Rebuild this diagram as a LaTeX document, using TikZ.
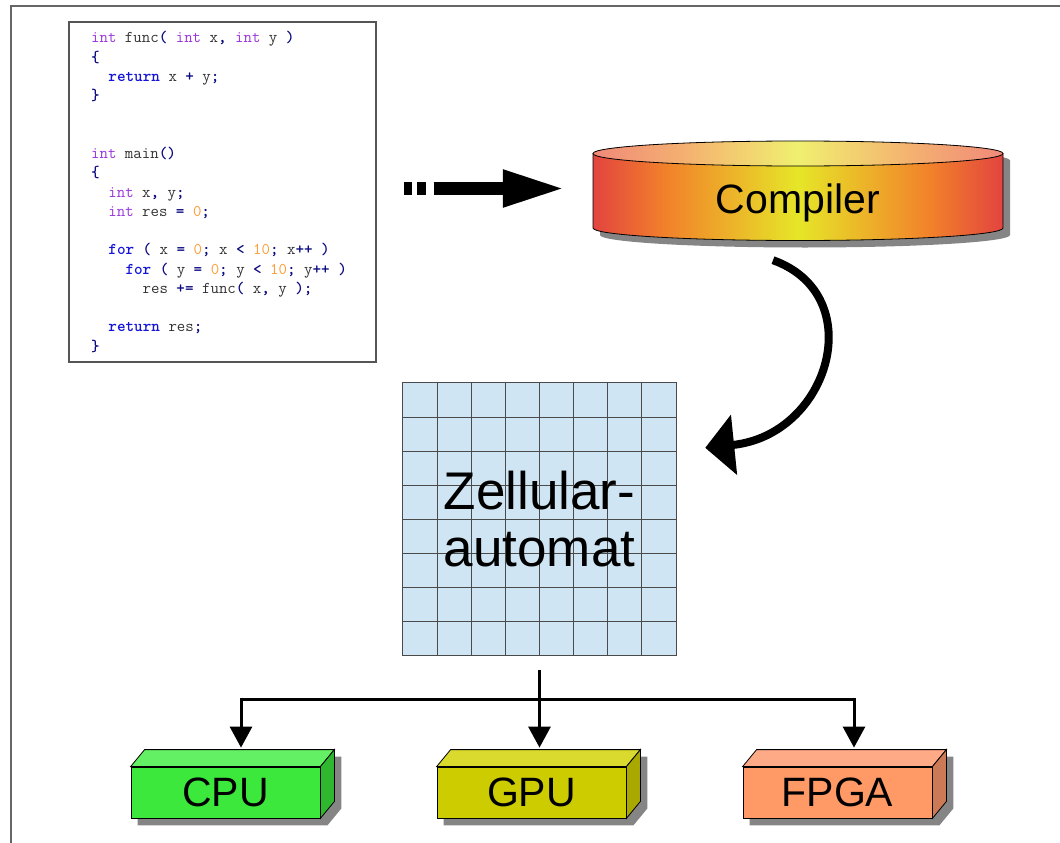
\documentclass[tikz,border=0pt]{standalone}
\usepackage{fontspec}
\newfontfamily\sansfont{Liberation Sans}
\usetikzlibrary{arrows.meta}
\pgfdeclarelayer{bg}
\pgfsetlayers{bg,main}

% palette
\definecolor{framec}{HTML}{666666}
\definecolor{codeborder}{HTML}{555555}
\definecolor{ctype}{HTML}{9A33DD}
\definecolor{ckey}{HTML}{1414D8}
\definecolor{cop}{HTML}{0A0A80}
\definecolor{cnum}{HTML}{FF9A33}
\definecolor{cid}{HTML}{333333}
\definecolor{cylred}{HTML}{E2443F}
\definecolor{cylorange}{HTML}{F2822A}
\definecolor{cylyellow}{HTML}{E6E628}
\definecolor{capred}{HTML}{F08A7A}
\definecolor{caporange}{HTML}{F4B070}
\definecolor{capyellow}{HTML}{F0F070}
\definecolor{gridfill}{HTML}{CFE5F3}
\definecolor{gridline}{HTML}{4A4A4A}
\definecolor{shadowc}{HTML}{858585}
\definecolor{cpufront}{HTML}{3CE83C}
\definecolor{cputop}{HTML}{64F064}
\definecolor{cpuside}{HTML}{2FB82F}
\definecolor{gpufront}{HTML}{CCCC00}
\definecolor{gputop}{HTML}{D9D92E}
\definecolor{gpuside}{HTML}{A8A800}
\definecolor{fpgafront}{HTML}{FF9966}
\definecolor{fpgatop}{HTML}{FFAA86}
\definecolor{fpgaside}{HTML}{CC7A55}

\pgfdeclarehorizontalshading{cylbody}{100bp}{color(0bp)=(cylred); color(25bp)=(cylred);
  color(34bp)=(cylorange); color(50bp)=(cylyellow); color(66bp)=(cylorange);
  color(75bp)=(cylred); color(100bp)=(cylred)}
\pgfdeclarehorizontalshading{cyltop}{100bp}{color(0bp)=(capred); color(25bp)=(capred);
  color(36bp)=(caporange); color(50bp)=(capyellow); color(64bp)=(caporange);
  color(75bp)=(capred); color(100bp)=(capred)}

% code listing helpers
\newcommand\ty[1]{\textcolor{ctype}{#1}}
\newcommand\kw[1]{\textcolor{ckey}{\bfseries #1}}
\newcommand\op[1]{\textcolor{cop}{\bfseries #1}}
\newcommand\nm[1]{\textcolor{cnum}{#1}}

\tikzset{
  codeline/.style={anchor=base west, inner sep=0pt, text=cid,
    font=\ttfamily\fontsize{16.4}{19}\selectfont},
  edge/.style={draw=black, line width=0.8pt},
  blockface/.style={edge, minimum width=189pt, minimum height=51pt, inner sep=0pt,
    font=\sansfont\fontsize{41}{45}\selectfont},
  conn/.style={line width=3pt, -{Triangle[length=21pt,width=22pt]}},
  fatarrow/.style={line width=13.5pt, dash pattern=on 8.5pt off 5pt on 9pt off 7.5pt on 400pt,
    -{Triangle[length=63pt,width=34pt]}},
  bendarrow/.style={line width=8pt, -{Triangle[length=29pt,width=59pt]}},
}

% 3D block: name, centre x, centre y, colour prefix, label
\newcommand\blockbox[5]{%
  \node[blockface, fill=#4front] (#1) at (#2,#3) {#5};
  \draw[edge, fill=#4top] (#1.north west) -- ++(14,-17)
    -- ([xshift=14pt,yshift=17pt]#1.north east) -- (#1.north east) -- cycle;
  \draw[edge, fill=#4side] (#1.north east) -- ++(14,-17)
    -- ([xshift=14pt,yshift=17pt]#1.south east) -- (#1.south east) -- cycle;
  \begin{pgfonlayer}{bg}
    \fill[shadowc] ([shift={(7pt,-7pt)}]#1.south west) -- ([shift={(7pt,-7pt)}]#1.north west)
      -- ([shift={(21pt,10pt)}]#1.north west) -- ([shift={(21pt,10pt)}]#1.north east)
      -- ([shift={(21pt,10pt)}]#1.south east) -- ([shift={(7pt,-7pt)}]#1.south east) -- cycle;
  \end{pgfonlayer}}

\begin{document}
\begin{tikzpicture}[x=1pt, y=-1pt]
\useasboundingbox (0,0) rectangle (1060,843);

% slide frame
\draw[framec, line width=1.5pt] (11,843) -- (11,6) -- (1060,6);

% source code listing
\node[draw=codeborder, line width=1.2pt, minimum width=307pt, minimum height=340pt,
  inner sep=0pt] (code) at (222.5,192) {};
\node[codeline] (l0)  at (91,43)      {\ty{int} func\op{(} \ty{int} x\op{,} \ty{int} y \op{)}};
\node[codeline] (l1)  at (91,62.25)   {\op{\{}};
\node[codeline] (l2)  at (108.2,81.5) {\kw{return} x \op{+} y\op{;}};
\node[codeline] (l3)  at (91,100.75)  {\op{\}}};
\node[codeline] (l6)  at (91,158.5)   {\ty{int} main\op{()}};
\node[codeline] (l7)  at (91,177.75)  {\op{\{}};
\node[codeline] (l8)  at (108.2,197)  {\ty{int} x\op{,} y\op{;}};
\node[codeline] (l9)  at (108.2,216.25) {\ty{int} res \op{=} \nm{0}\op{;}};
\node[codeline] (l11) at (108.2,254.75) {\kw{for} \op{(} x \op{=} \nm{0}\op{;} x \op{<} \nm{10}\op{;} x\op{++} \op{)}};
\node[codeline] (l12) at (125.3,274)  {\kw{for} \op{(} y \op{=} \nm{0}\op{;} y \op{<} \nm{10}\op{;} y\op{++} \op{)}};
\node[codeline] (l13) at (142.5,293.25) {res \op{+=} func\op{(} x\op{,} y \op{);}};
\node[codeline] (l15) at (108.2,331.75) {\kw{return} res\op{;}};
\node[codeline] (l16) at (91,351)     {\op{\}}};

% compiler cylinder
\node[minimum width=410pt, minimum height=99.5pt, inner sep=0pt] (comp) at (798,190.75) {};
\begin{pgfonlayer}{bg}
  \fill[shadowc] (600,160.5) -- (600,235) arc[start angle=180, end angle=0, x radius=205, y radius=12.5]
    -- (1010,160.5) arc[start angle=0, end angle=-180, x radius=205, y radius=12.5] -- cycle;
\end{pgfonlayer}
\shade[shading=cylbody] (593,153.5) -- (593,228) arc[start angle=180, end angle=0, x radius=205, y radius=12.5]
  -- (1003,153.5) arc[start angle=0, end angle=-180, x radius=205, y radius=12.5] -- cycle;
\draw[edge] (593,153.5) -- (593,228) arc[start angle=180, end angle=0, x radius=205, y radius=12.5]
  -- (1003,153.5);
\shade[shading=cyltop] (798,153.5) ellipse[x radius=205, y radius=12.5];
\draw[edge] (798,153.5) ellipse[x radius=205, y radius=12.5];
\node[anchor=base, inner sep=0pt, font=\sansfont\fontsize{41}{45}\selectfont] (comptext) at (798,213) {Compiler};

% cellular automaton grid
\node[minimum width=273pt, minimum height=272pt, inner sep=0pt] (ca) at (539.5,519) {};
\fill[gridfill] (ca.north west) rectangle (ca.south east);
\foreach \i in {1,...,7} {
  \draw[gridline, line width=1pt] (403+\i*34.125,383) -- (403+\i*34.125,655);
  \draw[gridline, line width=1pt] (403,383+\i*34) -- (676,383+\i*34);
}
\draw[gridline, line width=1pt] (ca.north west) rectangle (ca.south east);
\node[align=center, inner sep=0pt, font=\sansfont\fontsize{53}{57}\selectfont] (catext) at (ca.center) {Zellular-\\automat};

% target platforms
\blockbox{cpu}{225.5}{792.5}{cpu}{CPU}
\blockbox{gpu}{531.5}{792.5}{gpu}{GPU}
\blockbox{fpga}{837.5}{792.5}{fpga}{FPGA}

% connectors
\draw[fatarrow] ([xshift=27pt,yshift=3.5pt]code.east) -- ([xshift=-27pt,yshift=2.25pt]comp.west);
\draw[bendarrow] ([xshift=-25pt,yshift=-19.5pt]comp.south) .. controls (870,295) and (830,435)
  .. ([xshift=29pt,yshift=-65pt]ca.north east);
\coordinate (fork) at ([yshift=-44pt]ca.south);
\draw[conn] ([yshift=-15pt]ca.south) -- ([xshift=8pt,yshift=19pt]gpu.north);
\draw[conn] (fork) -| ([xshift=15.5pt,yshift=19pt]cpu.north);
\draw[conn] (fork) -| ([xshift=16.5pt,yshift=19pt]fpga.north);
\end{tikzpicture}
\end{document}
